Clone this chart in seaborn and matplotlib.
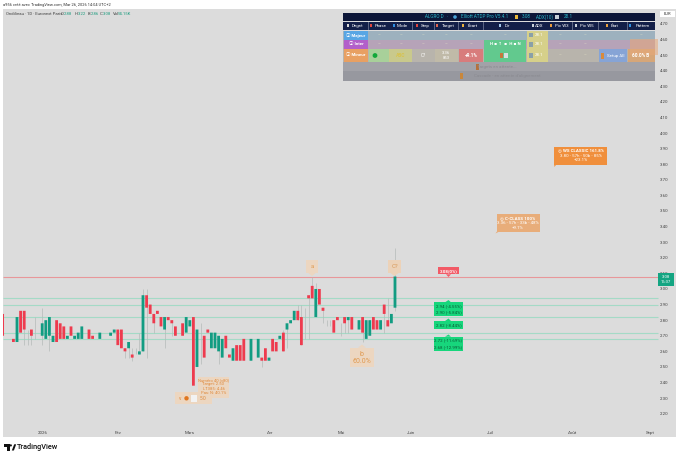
import numpy as np
import pandas as pd
import matplotlib
matplotlib.use('Agg')
import matplotlib.pyplot as plt
from matplotlib.patches import Rectangle, Polygon, Circle
import seaborn as sns

nan = np.nan

# daily candles (nan = slot with nothing visible)
opens = [2.84, nan, nan, 2.68, 2.66, 2.86, 2.86, 2.68, 2.74, 2.70,
         nan, 2.70, 2.68, 2.70, 2.66, 2.80, 2.78, 2.76, 2.68, 2.76,
         2.68, 2.68, 2.68, nan, 2.74, 2.70, nan, 2.68, nan, 2.72,
         2.70, 2.72, 2.74, 2.74, 2.62, 2.62, 2.58, 2.60, 2.58, 2.60,
         2.96, 2.90, 2.84, 2.86, 2.82, 2.74, 2.82, 2.80, 2.76, nan,
         2.78, 2.72, 2.76, 2.82, 2.50, 2.72, 2.70, 2.74, 2.62, 2.62,
         2.60, 2.56, 2.70, 2.58, 2.54, 2.64, 2.64, 2.68, nan, 2.54,
         nan, 2.56, 2.56, 2.62, 2.54, 2.68, 2.66, 2.68, 2.72, 2.74,
         2.78, 2.80, 2.86, 2.82, 2.88, 2.96, 3.02, 2.82, 3.00, 2.88,
         2.78, 2.78, 2.80, 2.82, 2.76, 2.82, 2.80, 2.82, nan, 2.74,
         2.82, 2.68, 2.70, 2.82, 2.80, 2.74, 2.90, 2.80, 2.78, 2.88]
closes = [2.70, nan, nan, 2.66, 2.82, 2.72, 2.74, 2.68, 2.70, 2.70,
          nan, 2.78, 2.80, 2.82, 2.70, 2.66, 2.68, 2.68, 2.70, 2.70,
          2.70, 2.72, 2.76, nan, 2.68, 2.68, nan, 2.72, nan, 2.72,
          2.72, 2.74, 2.64, 2.62, 2.60, 2.66, 2.56, 2.60, 2.60, 2.96,
          2.88, 2.84, 2.78, 2.84, 2.76, 2.82, 2.80, 2.78, 2.70, nan,
          2.70, 2.82, 2.80, 2.38, 2.74, 2.72, 2.56, 2.72, 2.72, 2.72,
          2.70, 2.68, 2.62, 2.56, 2.62, 2.54, 2.54, 2.54, nan, 2.68,
          nan, 2.68, 2.54, 2.54, 2.56, 2.60, 2.60, 2.70, 2.60, 2.78,
          2.80, 2.86, 2.80, 2.64, 2.88, 2.94, 2.94, 3.00, 2.90, 2.86,
          2.78, 2.78, 2.72, 2.80, 2.76, 2.78, 2.82, 2.74, nan, 2.80,
          2.72, 2.80, 2.80, 2.74, 2.74, 2.80, 2.84, 2.76, 2.84, 3.08]

# only candles with a wick that shows
wick_idx = [6, 7, 8, 9, 11, 13, 34, 35, 36, 37, 38, 39, 40, 42, 45, 47, 55, 60,
            72, 78, 79, 82, 83, 84, 85, 86, 87, 89, 90, 91, 94, 95, 96, 100, 106, 107, 109]
wick_high = [2.86, 2.74, 2.74, 2.82, 2.88, 2.82, 2.62, 2.66, 2.62, 2.62, 2.72, 3.00, 3.00, 2.84, 2.82, 2.80, 2.78, 2.70,
             2.56, 2.74, 2.78, 2.90, 2.90, 2.88, 2.96, 3.08, 3.04, 2.88, 2.80, 2.80, 2.78, 2.82, 2.82, 2.82, 2.90, 2.94, 3.26]
wick_low = [2.64, 2.64, 2.64, 2.68, 2.64, 2.60, 2.56, 2.56, 2.54, 2.58, 2.58, 2.60, 2.56, 2.72, 2.62, 2.70, 2.52, 2.52,
            2.50, 2.60, 2.62, 2.80, 2.64, 2.68, 2.68, 2.94, 2.82, 2.78, 2.76, 2.76, 2.70, 2.72, 2.72, 2.66, 2.72, 2.76, 2.86]

green_levels = [2.94, 2.90, 2.82, 2.72, 2.68]
red_level = 3.08
price_ticks = [round(2.2 + 0.1 * k, 2) for k in range(26)]
month_pos = [11.2, 32, 52, 74.3, 94, 113.4, 135.4, 158.4, 179.8]
month_labels = ['2026', 'Fév', 'Mars', 'Avr', 'Mai', 'Juin', 'Juil', 'Août', 'Sept']

UP = '#129c82'
DOWN = '#ee3b4e'
BG = '#dcdcdc'

sns.set_theme(style='white', rc={'axes.facecolor': BG, 'figure.facecolor': 'white'})
plt.rcParams['font.family'] = ['Roboto', 'DejaVu Sans', 'Noto Sans CJK JP']

df = pd.DataFrame({'idx': range(len(opens)), 'open': opens, 'close': closes}).dropna()
df['body'] = (df['close'] - df['open']).abs()
df['base'] = df[['open', 'close']].min(axis=1)
up = df[df['close'] >= df['open']]
down = df[df['close'] < df['open']]

fig = plt.figure(figsize=(6.8, 4.58), dpi=100)
W, H = 680, 458
ax = fig.add_axes([3 / W, 1 - 437 / H, 673 / W, 428 / H])

ax.hlines(green_levels, 0, 182, color='#a4dac6', lw=0.8, zorder=1)
ax.hlines(red_level, 0, 182, color='#e8979a', lw=0.8, zorder=1)
ax.vlines(wick_idx, wick_low, wick_high, color='#b4bab9', lw=0.5, zorder=2)

sns.barplot(data=up, x='idx', y='body', bottom=up['base'], color=UP, saturation=1, width=0.78,
            native_scale=True, errorbar=None, orient='x', linewidth=0, ax=ax, zorder=3)
sns.barplot(data=down, x='idx', y='body', bottom=down['base'], color=DOWN, saturation=1, width=0.78,
            native_scale=True, errorbar=None, orient='x', linewidth=0, ax=ax, zorder=3)
# no pixel snapping, keeps the candle widths even
for p in ax.patches:
    p.set_snap(False)

ax.set_xlim(0.11, 187.06)
ax.set_ylim(2.051, 4.795)
ax.set_xlabel('')
ax.set_ylabel('')
ax.yaxis.tick_right()
ax.set_yticks(price_ticks)
ax.set_yticklabels(['%.2f' % p for p in price_ticks])
ax.tick_params(axis='y', length=0, pad=-11.5, labelsize=3.2, labelcolor='#444444')
ax.set_xticks(month_pos)
ax.set_xticklabels(month_labels)
ax.tick_params(axis='x', length=0, pad=-4.3, labelsize=3.2, labelcolor='#444444')
for s in ax.spines.values():
    s.set_visible(False)

# overlay in picture pixels for the table, tags and headers
ov = fig.add_axes([0, 0, 1, 1], zorder=5)
ov.set_xlim(0, W)
ov.set_ylim(H, 0)
ov.axis('off')
ov.patch.set_alpha(0)


def box(x0, y0, x1, y1, color, alpha=1.0):
    ov.add_patch(Rectangle((x0, y0), x1 - x0, y1 - y0, fc=color, ec='none', alpha=alpha))


def txt(x, y, s, color='white', size=3.2, ha='center', **kw):
    ov.text(x, y, s, color=color, fontsize=size, ha=ha, va='center', **kw)


def tag(x0, y0, x1, y1, color, tip=None, alpha=1.0):
    box(x0, y0, x1, y1, color, alpha)
    if tip is not None:
        ov.add_patch(Polygon(tip, fc=color, ec='none', alpha=alpha))


# page header
txt(3, 5, 'a956 créé avec TradingView.com, Mar 26, 2026 14:04 UTC+2', '#333333', 2.85, 'left')
txt(6, 14, 'Ondilieau · 1D · Euronext Paris', '#444444', 3.1, 'left')
hx = [61, 75, 88, 100, 113]
hl = ['O', 'H', 'B', 'C', 'Vol']
hv = ['2.88', '3.22', '2.86', '3.08', '54.15K']
for x, l, v in zip(hx, hl, hv):
    txt(x, 14, l, '#444444', 3.1, 'left')
    txt(x + (2.8 if l != 'Vol' else 5), 14, v, '#1f9d80', 3.1, 'left')

# table
cols = [343.3, 368.3, 389, 412.3, 434.3, 458.3, 483.3, 526.7, 548, 572.3, 598.3, 627.3, 655]
heads = ['Degré', 'Phase', 'Mode', 'Step', 'Target', 'Écart', 'Dir', 'ADX', 'Pic W3', 'Pic W5', 'État', 'Pattern']
head_col = ['#d8d8d8', '#e0453f', '#2f8fe0', '#e0453f', '#e0654f', '#e8b13c', '#9fc4e8', '#c8d0d8', '#e89a3c', '#c8d0d8', '#e8a03c', '#2f8fe0']
box(343.3, 12.7, 655, 21.3, '#0c1638')
txt(434.5, 17, 'ALGRO D', '#2bb6c8', 3.3)
txt(447, 17, '·', '#2bb6c8', 3.3)
ov.add_patch(Circle((455, 17), 1.8, fc='#4aa3d8', ec='none'))
txt(484.5, 17, 'Elliott ATDP Pro V5.4.1', '#2bb6c8', 3.3)
box(514.5, 14.8, 517.5, 19, '#e8b83c')
txt(526.5, 17, '3.08', '#2bb6c8', 3.3)
txt(545, 17, 'ADX(10)', '#2bb6c8', 3.3)
box(555, 14.8, 559, 19, '#c8d0d8')
txt(568, 17, '28.1', '#2bb6c8', 3.3)
box(343.3, 21.7, 655, 29.7, '#131f48')
for k, h in enumerate(heads):
    mid = (cols[k] + cols[k + 1]) / 2
    txt(mid + 2, 25.7, h, 'white', 3.2)
    box(mid - 1.2 - 1.9 * len(h) / 1.25, 24.3, mid + 0.8 - 1.9 * len(h) / 1.25, 27, head_col[k])
    if k > 0:
        box(cols[k] - 0.2, 21.7, cols[k] + 0.2, 29.7, '#5a6484')

box(343.3, 30.7, 655, 39.7, '#9db1be')
box(343.3, 40, 655, 48.7, '#b6a3b8')
box(343.3, 49, 655, 62, '#b8b4ac')
box(343.3, 62, 655, 71.3, '#a2a2a8')
box(343.3, 71.3, 655, 80.7, '#97989f')
box(343.5, 30.7, 368, 39.7, '#58a6e4')
box(343.5, 40, 368, 48.7, '#b25fca')
box(343.5, 49, 368, 62, '#e8a062')
txt(356, 35.2, 'ⓘ Majeur', 'white', 3.2, weight='bold')
txt(356, 44.3, 'ⓘ Inter', 'white', 3.2, weight='bold')
txt(356, 55.5, 'ⓘ Mineur', 'white', 3.2, weight='bold')
box(368.6, 49, 388.8, 62, '#a8d09a')
ov.add_patch(Circle((375, 55.5), 2.4, fc='#12a83a', ec='none'))
box(389.2, 49, 412, 62, '#c9c98c')
txt(400.5, 55.5, 'ABC', '#d8c24a', 3.4, weight='bold')
txt(423, 55.5, 'C?', 'white', 3.4)
box(434.6, 49, 458, 62, '#c0baa8')
txt(446, 55.5, '3.36\n853', 'white', 3)
box(458.6, 49, 483, 62, '#d87c7c')
txt(471, 55.5, '+9.1%', 'white', 3.4, weight='bold')
box(483.6, 40, 526.4, 62, '#62c98e')
txt(505, 44.3, 'H ▪ ↑  ▪  H ▪ N', 'white', 3.2, weight='bold')
box(500, 53, 503, 58, '#c8773c')
box(504, 53, 508, 58, '#d8e0e0')
for y0, y1 in [(30.7, 39.7), (40, 48.7), (49, 62)]:
    box(527, y0, 547.8, y1, '#d6d08a')
    ymid = (y0 + y1) / 2
    box(529, ymid - 2.2, 533, ymid + 2.2, '#8aa0a8')
    txt(539, ymid, '28.1', 'white', 3.2)
box(598.6, 49, 627, 62, '#86a4d6')
box(601, 52.5, 604, 58.5, '#d88a3c')
txt(616, 55.5, 'Setup All', 'white', 3.2)
box(627.6, 49, 655, 62, '#d6a678')
txt(641, 55.5, '60.0% B', 'white', 3.4, weight='bold')
for k in [1, 2, 3, 4, 5, 6, 8, 9, 11]:
    mid = (cols[k] + cols[k + 1]) / 2
    txt(mid, 35.2, '–', '#e8e8c8', 3.2)
for k in [1, 2, 3, 4, 5, 8, 9]:
    mid = (cols[k] + cols[k + 1]) / 2
    txt(mid, 44.3, '–', '#e8e8c8', 3.2)
for k in [8, 9]:
    mid = (cols[k] + cols[k + 1]) / 2
    txt(mid, 55.5, '–', '#e8e8c8', 3.2)
box(476, 64, 479, 70, '#b5713c')
txt(497, 67, 'Targets en attente...', '#8a8a90', 3.2)
box(459.5, 73, 463, 79, '#c8873c')
txt(507, 76, "Cascade - en attente d'alignement", '#8a8a90', 3.2)
box(630, 39, 658, 55, '#e8a878', 0.55)

# price axis badges
box(660, 10.7, 675, 17.3, 'white')
txt(667.5, 14, 'EUR', '#333333', 3)
box(658.3, 273.3, 674, 285.7, '#14a582')
txt(666, 279.5, '3.08\n16:37', 'white', 3)

# wave labels
tag(554.3, 147.3, 607.3, 165, '#f08f3c', [(554.3, 165), (556, 165), (554.3, 167)])
txt(581, 150.5, '◎ WS CLASSIC 161.8%', 'white', 3.2, weight='bold')
txt(581, 155.6, '3.80 - 57h - 50b - 85%', 'white', 3.2)
txt(581, 160.3, '+23.1%', 'white', 3.2)
tag(496.7, 214.3, 540, 231.7, '#e8ad7a', [(496.7, 231.7), (499, 231.7), (495.5, 233.5)])
txt(518, 218, '◎ C-CLASS 100%', 'white', 3.2, weight='bold')
txt(518, 223, '3.36 - 57h - 33b - 48%', 'white', 3.2)
txt(518, 227.6, '+9.1%', 'white', 3.2)
tag(306, 260, 318, 272.7, '#ecd6c0', [(308, 272.7), (316, 272.7), (312, 276)])
txt(312, 266, 'a', '#e0994f', 4.2)
tag(387.7, 260, 401, 272.7, '#ecd2b8', [(390, 272.7), (399, 272.7), (394.5, 276)])
txt(394.5, 266, 'C?', '#d89a5a', 4.2)
tag(350, 347.7, 374.3, 367.3, '#ecd6c0', [(358, 347.7), (366, 347.7), (362, 344.5)])
txt(362, 354.5, 'b', '#e0994f', 5)
txt(362, 361.5, '60.0%', '#e0994f', 5)
box(198, 376.7, 229, 398, '#ecd6c0')
txt(213.5, 380, 'Numéro 40 (v80)', '#e08a3c', 3)
txt(213.5, 384.5, 'Target: 2.50', '#e08a3c', 3)
txt(213.5, 388.8, 'LT385: 4.46', '#e08a3c', 3)
txt(213.5, 393, 'Pas: N: 40.1%', '#e08a3c', 3)
box(175, 392.3, 211.7, 404, '#ecd6c0')
txt(180.5, 398, 'v', '#e08a3c', 3.5)
ov.add_patch(Circle((186.5, 398.3), 2.2, fc='#e0761f', ec='none'))
box(191, 395, 197, 401.5, '#f2f2f2')
txt(203, 398, '5.0', '#e08a3c', 3.5)

# level tags
tag(438, 267.3, 459, 274.3, '#f25a66', [(446, 274.3), (451, 274.3), (448.5, 277)])
txt(448.5, 270.8, '3.08(0%)', 'white', 3.2, weight='bold')
GT = '#17d67c'
GX = '#0a5a36'
tag(434.3, 302.3, 462.7, 316, GT, [(445, 302.3), (451, 302.3), (448.5, 300)])
txt(448.5, 305.8, '2.94 (-4.55%)', GX, 3.2)
txt(448.5, 312.2, '2.90 (-5.84%)', GX, 3.2)
tag(434.3, 321, 462.7, 329, GT, [(445, 321), (451, 321), (448.5, 318.5)])
txt(448.5, 325, '2.82 (-8.44%)', GX, 3.2)
tag(434.3, 336.7, 462.7, 350.7, GT, [(445, 336.7), (451, 336.7), (448.5, 334.5)])
txt(448.5, 340.2, '2.72 (-11.69%)', GX, 3.2)
txt(448.5, 346.8, '2.68 (-12.99%)', GX, 3.2)

# logo
ov.add_patch(Polygon([(4, 444.3), (9.5, 444.3), (9.5, 450.5), (7, 450.5), (7, 446.6), (4, 446.6)], fc='#111111', ec='none'))
ov.add_patch(Circle((10.8, 445.4), 1.1, fc='#111111', ec='none'))
ov.add_patch(Polygon([(11.8, 450.5), (14.2, 444.3), (16.2, 444.3), (13.9, 450.5)], fc='#111111', ec='none'))
txt(17, 447.4, 'TradingView', '#111111', 5.3, 'left', weight='medium')

fig.savefig('out.png', dpi=100)
